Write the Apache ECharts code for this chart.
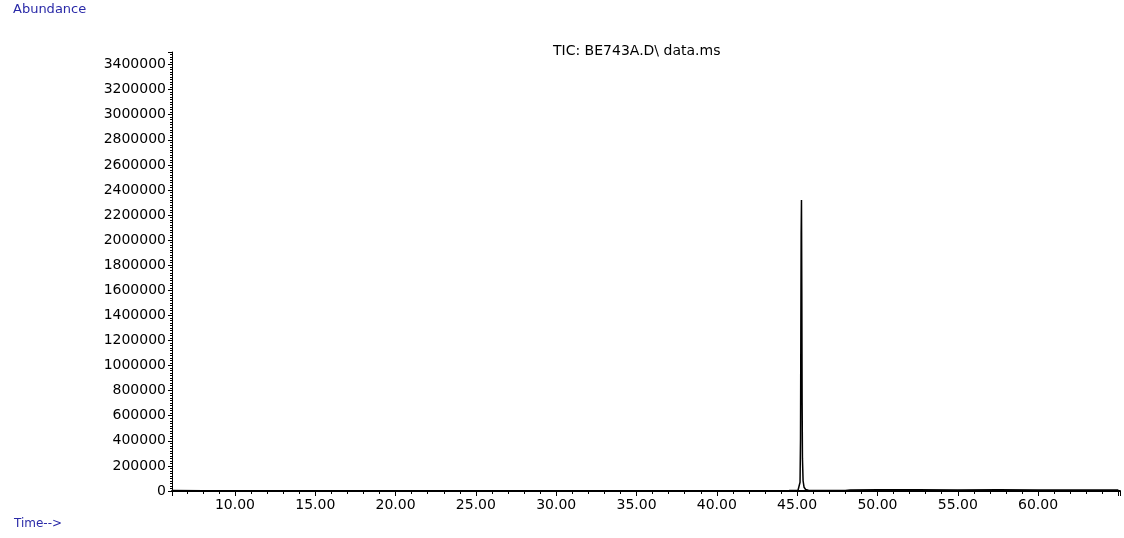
<!DOCTYPE html>
<html>
<head>
<meta charset="utf-8">
<script src="https://cdn.jsdelivr.net/npm/echarts@6/dist/echarts.min.js"></script>
<style>html,body{margin:0;padding:0;background:#fff}#c{width:1124px;height:538px}</style>
</head>
<body>
<div id="c"></div>
<script>
// Retention time (min)
const times = [6.10, 8.0, 10.0, 12.5, 15.0, 17.5, 20.0, 22.5, 25.0, 27.5, 30.0, 32.5, 35.0, 37.5, 40.0, 42.5, 44.5, 45.05, 45.13, 45.18, 45.21, 45.23, 45.25, 45.27, 45.29, 45.31, 45.33, 45.37, 45.43, 45.53, 45.70, 46.00, 47.0, 48.0, 48.3, 50.0, 52.5, 55.0, 57.5, 60.0, 62.5, 65.0];
// Total ion current abundance
const abundance = [3000, 2500, 2200, 2000, 2100, 1900, 2000, 2200, 2100, 2300, 2200, 2400, 2500, 2600, 2700, 2900, 3200, 4000, 12000, 70000, 420000, 1250000, 2050000, 2320000, 1600000, 700000, 260000, 80000, 30000, 12000, 6000, 4000, 3500, 4200, 8500, 9500, 9000, 8500, 9000, 8000, 8000, 7500];
const yTicks = [0, 3400000];
const titleText = 'TIC: BE743A.D\\ data.ms';
const yName = 'Abundance';
const xName = 'Time-->';

const data = times.map((t, i) => [t, abundance[i]]);
const chart = echarts.init(document.getElementById('c'));
const font = 'DejaVu Sans';
chart.setOption({
  animation: false,
  backgroundColor: '#fff',
  title: [
    {text: titleText, left: 548, top: 39, textStyle: {fontFamily: font, fontSize: 14, fontWeight: 'normal', color: '#000'}},
    {text: yName, left: 8, top: -2, textStyle: {fontFamily: font, fontSize: 13, fontWeight: 'normal', color: '#2a2aa8'}},
    {text: xName, left: 9, top: 513, textStyle: {fontFamily: font, fontSize: 12, fontWeight: 'normal', color: '#2a2aa8'}}
  ],
  grid: {left: 172, right: 4, top: 52, bottom: 47, containLabel: false},
  xAxis: {
    type: 'value', min: 6.08, max: 65.1, minInterval: 5, maxInterval: 5, splitNumber: 12,
    splitLine: {show: false},
    axisLine: {lineStyle: {color: '#000', width: 2}},
    axisTick: {length: 5, lineStyle: {color: '#000'}},
    minorTick: {show: true, splitNumber: 5, length: 3, lineStyle: {color: '#000'}},
    axisLabel: {
      fontFamily: font, fontSize: 14, color: '#000', margin: 7,
      formatter: v => (Math.abs(v / 5 - Math.round(v / 5)) < 1e-6 && v <= 60 + 1e-6) ? v.toFixed(2) : ''
    }
  },
  yAxis: {
    type: 'value', min: yTicks[0], max: 3500000, interval: 200000,
    splitLine: {show: false},
    axisLine: {show: true, lineStyle: {color: '#000', width: 1}},
    axisTick: {length: 4, lineStyle: {color: '#000'}},
    minorTick: {show: true, splitNumber: 10, length: 2, lineStyle: {color: '#000'}},
    axisLabel: {
      fontFamily: font, fontSize: 14, color: '#000', margin: 6,
      formatter: v => v <= yTicks[1] ? String(v) : ''
    }
  },
  series: [{
    type: 'line', data: data, symbol: 'none', smooth: false,
    lineStyle: {color: '#000', width: 1.5}
  }]
});
</script>
</body>
</html>
